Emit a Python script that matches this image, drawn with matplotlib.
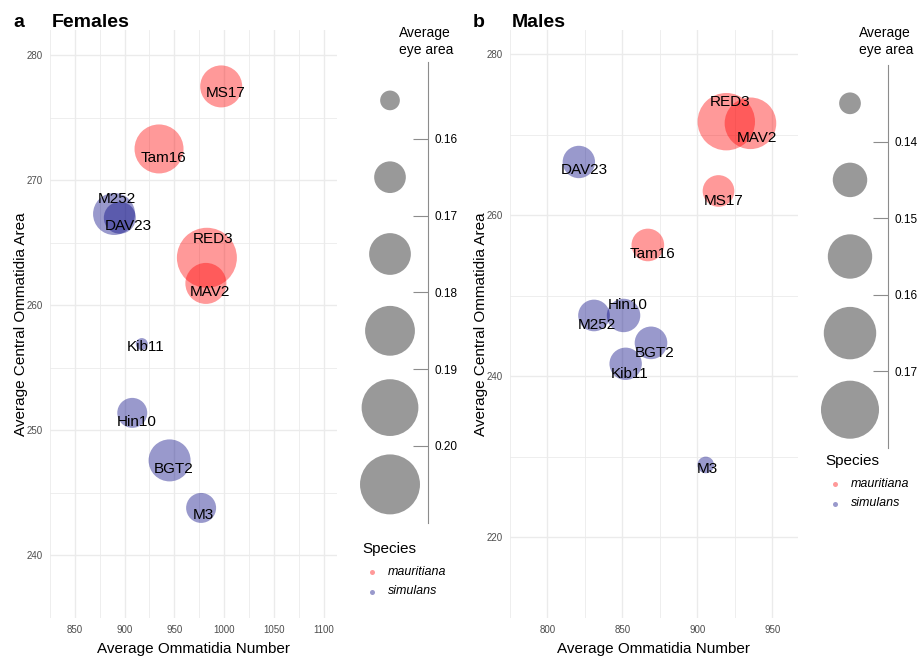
import numpy as np
import matplotlib
matplotlib.use('Agg')
import matplotlib.pyplot as plt
from matplotlib.lines import Line2D

plt.rcParams['font.family'] = ['Liberation Sans', 'DejaVu Sans']

### Data
strains_f = ['MS17', 'Tam16', 'M252', 'DAV23', 'RED3', 'MAV2', 'Kib11', 'Hin10', 'BGT2', 'M3']
species_f = ['mauritiana', 'mauritiana', 'simulans', 'simulans', 'mauritiana',
             'mauritiana', 'simulans', 'simulans', 'simulans', 'simulans']
omm_num_f = [997.1, 934.6, 889.4, 895.2, 982.7, 981.7, 917.3, 907.7, 945.2, 976.9]
omm_area_f = [277.5, 272.5, 267.3, 267.0, 263.8, 261.75, 256.9, 251.4, 247.6, 243.8]
eye_area_f = [0.1753, 0.1839, 0.1753, 0.1653, 0.2001, 0.1742, 0.1534, 0.1636, 0.1753, 0.1636]

strains_m = ['RED3', 'MAV2', 'DAV23', 'MS17', 'Tam16', 'Hin10', 'M252', 'BGT2', 'Kib11', 'M3']
species_m = ['mauritiana', 'mauritiana', 'simulans', 'mauritiana', 'mauritiana',
             'simulans', 'simulans', 'simulans', 'simulans', 'simulans']
omm_num_m = [919.2, 935.3, 820.9, 914.0, 866.9, 850.7, 831.0, 869.0, 852.1, 905.5]
omm_area_m = [271.6, 271.4, 266.6, 263.0, 256.3, 247.55, 247.55, 244.15, 241.55, 229.0]
eye_area_m = [0.1720, 0.1639, 0.1432, 0.1426, 0.1434, 0.1441, 0.1426, 0.1434, 0.1432, 0.1333]

breaks_f = [0.16, 0.17, 0.18, 0.19, 0.20]
breaks_m = [0.14, 0.15, 0.16, 0.17]
limits_f = (0.1534, 0.2001)
limits_m = (0.1316, 0.1759)

### Label offsets in pixels (repel-style placement)
offs_f = {'MS17': (4, -7), 'Tam16': (4, -9), 'M252': (3, 15), 'DAV23': (8, -8),
          'RED3': (6, 19), 'MAV2': (4, -9), 'Kib11': (4, -3), 'Hin10': (4, -9),
          'BGT2': (4, -9), 'M3': (2, -7)}
offs_m = {'RED3': (4, 20), 'MAV2': (6, -15), 'DAV23': (5, -8), 'MS17': (5, -10),
          'Tam16': (5, -9), 'Hin10': (4, 10), 'M252': (3, -10), 'BGT2': (4, -10),
          'Kib11': (4, -10), 'M3': (2, -4)}

colors = {'mauritiana': '#FF0000', 'simulans': '#000080'}
W, H, DPI = 919, 657, 100
RMIN, RMAX = 6.0, 30.0   # circle radius range in pixels


def radius(v, lims):
    frac = (np.asarray(v) - lims[0]) / (lims[1] - lims[0])
    return np.sqrt(RMIN**2 + (RMAX**2 - RMIN**2) * np.clip(frac, 0, 1))


def msize(r):
    # scatter size (pt^2) from a radius in pixels
    return (2 * r * 72.0 / DPI) ** 2


def fx(px):
    return px / W


def fy(py):
    return 1 - py / H


fig = plt.figure(figsize=(W / DPI, H / DPI), dpi=DPI)


def panel(rect, xs, ys, sizes, sp, names, offs, lims, xlim, ylim, xmaj, ymaj):
    ax = fig.add_axes(rect)
    for side in ax.spines.values():
        side.set_visible(False)
    ax.set_xlim(xlim)
    ax.set_ylim(ylim)
    ax.set_xticks(xmaj)
    ax.set_yticks(ymaj)
    dx = xmaj[1] - xmaj[0]
    dy = ymaj[1] - ymaj[0]
    ax.set_xticks(np.arange(xmaj[0] - dx / 2, xlim[1], dx), minor=True)
    ax.set_yticks(np.arange(ymaj[0] - dy / 2, ylim[1], dy), minor=True)
    ax.grid(which='major', color='#EBEBEB', linewidth=1.0)
    ax.grid(which='minor', color='#EBEBEB', linewidth=0.6)
    ax.set_axisbelow(True)
    ax.tick_params(which='both', length=0, labelsize=7, labelcolor='#4D4D4D', pad=5)
    r = radius(sizes, lims)
    for i in range(len(xs)):
        ax.scatter(xs[i], ys[i], s=msize(r[i]), color=colors[sp[i]], alpha=0.4,
                   edgecolors='none', zorder=2)
    for i in range(len(xs)):
        ax.annotate(names[i], (xs[i], ys[i]), xytext=offs[names[i]],
                    textcoords='offset pixels', ha='center', va='center',
                    fontsize=11, color='black', zorder=3)
    ax.set_xlabel('Average Ommatidia Number', fontsize=11, labelpad=5)
    ax.set_ylabel('Average Central Ommatidia Area', fontsize=11, labelpad=-1)
    return ax


ax1 = panel([fx(50), fy(618), fx(287), 588 / H], omm_num_f, omm_area_f, eye_area_f,
            species_f, strains_f, offs_f, limits_f, (837.5, 1113.5), (238.21, 282.01),
            np.arange(850, 1101, 50), np.arange(240, 281, 10))
ax2 = panel([fx(510), fy(618), fx(288), 588 / H], omm_num_m, omm_area_m, eye_area_m,
            species_m, strains_m, offs_m, limits_m, (791.9, 967.0), (217.32, 282.98),
            np.arange(800, 951, 50), np.arange(220, 281, 20))

### Panel titles
for x_l, x_t, lab, title in [(13, 52, 'a', 'Females'), (473, 512, 'b', 'Males')]:
    fig.text(fx(x_l), fy(27), lab, fontsize=14, fontweight='bold', va='baseline')
    fig.text(fx(x_t), fy(27), title, fontsize=14, fontweight='bold', va='baseline')


### Size legends (binned)
def size_legend(line_x, top, breaks, lims, key_h=76.8):
    edges = [lims[0]] + list(breaks) + [lims[1]]
    mids = [(edges[i] + edges[i + 1]) / 2 for i in range(len(edges) - 1)]
    n = len(mids)
    w = 76
    lax = fig.add_axes([fx(line_x - w), fy(top + n * key_h), fx(w), n * key_h / H])
    lax.set_xlim(0, 1)
    lax.set_ylim(n, 0)
    lax.scatter([0.5] * n, np.arange(n) + 0.5, s=msize(radius(mids, lims)),
                color='black', alpha=0.4, edgecolors='none')
    for k in ['top', 'left', 'bottom']:
        lax.spines[k].set_visible(False)
    lax.spines['right'].set_color('#8C8C8C')
    lax.spines['right'].set_linewidth(0.8)
    lax.set_xticks([])
    lax.yaxis.tick_right()
    lax.set_yticks(np.arange(1, n))
    lax.set_yticklabels(['%.2f' % b for b in breaks])
    lax.tick_params(axis='y', direction='in', length=10.5, width=0.8, color='#8C8C8C',
                    labelsize=8.5, labelcolor='black', pad=5)
    fig.text(fx(line_x - 29), fy(33), 'Average', fontsize=10, va='center')
    fig.text(fx(line_x - 29), fy(50), 'eye area', fontsize=10, va='center')


size_legend(428, 62, breaks_f, limits_f)
size_legend(888, 65, breaks_m, limits_m, key_h=76.6)


### Species legends
def species_legend(x0, y0):
    fig.text(fx(x0), fy(y0), 'Species', fontsize=11, va='center')
    for j, sp in enumerate(['mauritiana', 'simulans']):
        yy = y0 + 23 + j * 19.5
        fig.add_artist(Line2D([fx(x0 + 9.5)], [fy(yy)], marker='o', ls='',
                              markersize=3.6, color=colors[sp], alpha=0.4,
                              markeredgewidth=0))
        fig.text(fx(x0 + 26), fy(yy), sp, fontsize=9, style='italic', va='center')


species_legend(362, 549)
species_legend(825, 461)

plt.savefig('out.png', dpi=DPI)
